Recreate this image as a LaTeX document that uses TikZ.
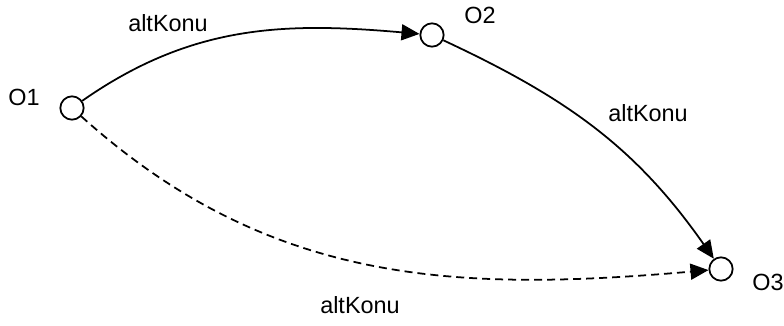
\documentclass[tikz,border=0pt]{standalone}
\usepackage{fontspec}
\setmainfont{Liberation Sans}
\usetikzlibrary{arrows.meta}

\begin{document}
\begin{tikzpicture}[x=0.03cm, y=0.03cm, line width=1.5pt,
    font=\fontsize{20}{24}\selectfont,
    obj/.style = {circle, draw, minimum size=7mm, inner sep=0pt},
    rel/.style = {-{Triangle[length=5.4mm, width=4.8mm]}}]
    \useasboundingbox (0,0) rectangle (784,325);
    % objects
    \node (O1) at (72,217) [obj] {};
    \node (O2) at (432,290) [obj] {};
    \node (O3) at (721,56) [obj] {};
    \node (nO1) at (24,228) {O1};
    \node (nO2) at (480,310) {O2};
    \node (nO3) at (768,43) {O3};
    % relations
    \draw[rel] (O1) to[out=35, in=175] (O2);
    \draw[rel] (O2) to[out=-25, in=125] (O3);
    \draw[rel, dash pattern=on 2.4mm off 1.5mm] (O1) to[out=-42, in=185] (O3);
    \node (r12) at (168,302) {altKonu};
    \node (r23) at (648,212) {altKonu};
    \node (r13) at (360,20) {altKonu};
\end{tikzpicture}
\end{document}
